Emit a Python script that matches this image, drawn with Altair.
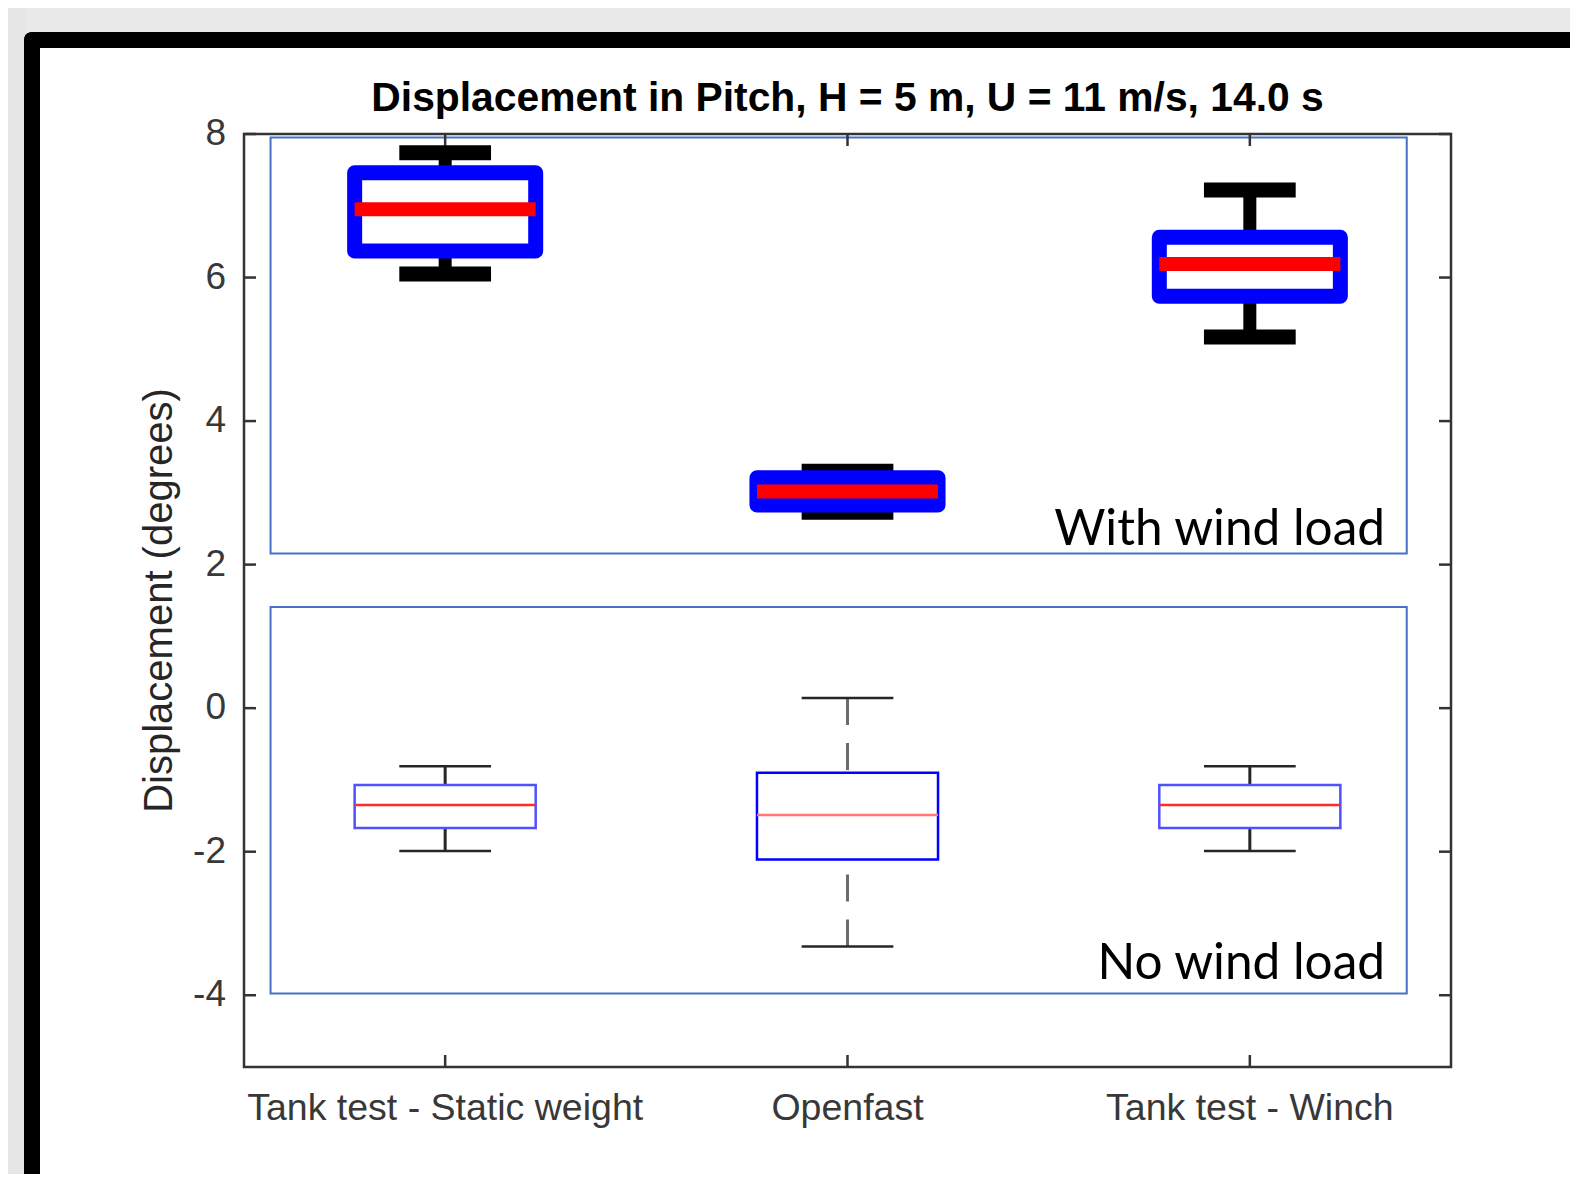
import altair as alt
import pandas as pd

# ---------------- data ----------------
categories = ["Tank test - Static weight", "Openfast", "Tank test - Winch"]
positions = [1, 2, 3]

wind_lo = [6.05, 2.73, 5.17]
wind_q1 = [6.37, 2.83, 5.74]
wind_med = [6.95, 3.02, 6.19]
wind_q3 = [7.46, 3.21, 6.56]
wind_hi = [7.74, 3.30, 7.22]

nowind_lo = [-1.99, -3.32, -1.99]
nowind_q1 = [-1.67, -2.11, -1.67]
nowind_med = [-1.35, -1.49, -1.35]
nowind_q3 = [-1.07, -0.90, -1.07]
nowind_hi = [-0.81, 0.14, -0.81]

y_ticks = [-4, -2, 0, 2, 4, 6, 8]

ann_labels = ["With wind load", "No wind load"]
ann_x = [3.336, 3.336]
ann_y = [2.27, -3.78]
ann_box_x1 = [0.566, 0.566]
ann_box_x2 = [3.390, 3.390]
ann_box_y1 = [7.95, 1.41]
ann_box_y2 = [2.155, -3.976]

title_text = "Displacement in Pitch, H = 5 m, U = 11 m/s, 14.0 s"
y_title = "Displacement (degrees)"

# ---------------- tables ----------------
df = pd.DataFrame({
    "pos": positions * 2,
    "case": ["wind"] * 3 + ["nowind"] * 3,
    "lo": wind_lo + nowind_lo,
    "q1": wind_q1 + nowind_q1,
    "med": wind_med + nowind_med,
    "q3": wind_q3 + nowind_q3,
    "hi": wind_hi + nowind_hi,
})
ticks_df = pd.DataFrame({"v": y_ticks, "lab": [str(v) for v in y_ticks]})
xt_df = pd.DataFrame({"pos": positions, "lab": categories})
ann_df = pd.DataFrame({"label": ann_labels, "x": ann_x, "y": ann_y})
box_df = pd.DataFrame({"x1": ann_box_x1, "x2": ann_box_x2, "y1": ann_box_y1, "y2": ann_box_y2})
lim_df = pd.DataFrame({"x1": [0.5], "x2": [3.5], "y1": [-5], "y2": [8]})

W, H = 1207, 933
BOX_HALF = 0.225
CAP_HALF = 0.114

xscale = alt.Scale(domain=[0.5, 3.5], nice=False, zero=False)
yscale = alt.Scale(domain=[-5, 8], nice=False, zero=False)

X = lambda f: alt.X(f"{f}:Q", scale=xscale, axis=None)
Y = lambda f: alt.Y(f"{f}:Q", scale=yscale, axis=None)

one = alt.Data(values=[{}])

# ---------------- decoration (page frame: gray margin + black border) ----------------
gray_top = alt.Chart(one).mark_rect(fill="#e9e9e9").encode(
    x=alt.value(-236), x2=alt.value(1326), y=alt.value(-126), y2=alt.value(-100))
gray_left = alt.Chart(one).mark_rect(fill="#e6e6e6").encode(
    x=alt.value(-236), x2=alt.value(-218), y=alt.value(-126), y2=alt.value(1040))
black_top = alt.Chart(one).mark_rect(fill="black", cornerRadiusTopLeft=9).encode(
    x=alt.value(-220), x2=alt.value(1326), y=alt.value(-102), y2=alt.value(-86))
black_left = alt.Chart(one).mark_rect(fill="black", cornerRadiusTopLeft=9).encode(
    x=alt.value(-220), x2=alt.value(-204), y=alt.value(-102), y2=alt.value(1040))

# ---------------- axes box, inward ticks, tick labels ----------------
spines = alt.Chart(lim_df).mark_rect(fill="white", fillOpacity=0, stroke="#333333", strokeWidth=2.5).encode(
    x=X("x1"), x2="x2:Q", y=Y("y1"), y2="y2:Q")
tick_style = dict(color="#333333", strokeWidth=2.5)
lticks = alt.Chart(ticks_df).mark_rule(**tick_style).encode(y=Y("v"), x=alt.value(0), x2=alt.value(12))
rticks = alt.Chart(ticks_df).mark_rule(**tick_style).encode(y=Y("v"), x=alt.value(W - 12), x2=alt.value(W))
bticks = alt.Chart(xt_df).mark_rule(**tick_style).encode(x=X("pos"), y=alt.value(H), y2=alt.value(H - 12))
tticks = alt.Chart(xt_df).mark_rule(**tick_style).encode(x=X("pos"), y=alt.value(0), y2=alt.value(12))

ylabels = alt.Chart(ticks_df).mark_text(font="Liberation Sans", fontSize=37, color="#383838",
                                        align="right", baseline="middle").encode(
    y=Y("v"), x=alt.value(-18), text="lab:N")
xlabels = alt.Chart(xt_df).mark_text(font="Liberation Sans", fontSize=37.5, color="#383838",
                                     align="center", baseline="top").encode(
    x=X("pos"), y=alt.value(H + 23), text="lab:N")
ytitle = alt.Chart(one).mark_text(text=y_title, font="Liberation Sans", fontSize=40, color="#262626",
                                  angle=270, align="center", baseline="middle").encode(
    x=alt.value(-84), y=alt.value(H / 2))

# ---------------- annotation boxes ----------------
ann_boxes = alt.Chart(box_df).mark_rect(fill="white", fillOpacity=0, stroke="#4472c4", strokeWidth=2).encode(
    x=X("x1"), x2="x2:Q", y=Y("y1"), y2="y2:Q")

# ---------------- box plots ----------------
calc = dict(bl=f"datum.pos - {BOX_HALF}", br=f"datum.pos + {BOX_HALF}",
            cl=f"datum.pos - {CAP_HALF}", cr=f"datum.pos + {CAP_HALF}")
boxbase = alt.Chart(df).transform_calculate(**calc)

# thick (with wind)
wb = boxbase.transform_filter("datum.case == 'wind'")
w_wu = wb.mark_rule(color="black", strokeWidth=13).encode(x=X("pos"), y=Y("hi"), y2="q3:Q")
w_wl = wb.mark_rule(color="black", strokeWidth=13).encode(x=X("pos"), y=Y("lo"), y2="q1:Q")
w_cu = wb.mark_rule(color="black", strokeWidth=15).encode(x=X("cl"), x2="cr:Q", y=Y("hi"))
w_cl = wb.mark_rule(color="black", strokeWidth=15).encode(x=X("cl"), x2="cr:Q", y=Y("lo"))
w_box = wb.mark_rect(fill="white", fillOpacity=0, stroke="#0000ff", strokeWidth=15, strokeJoin="round").encode(
    x=X("bl"), x2="br:Q", y=Y("q1"), y2="q3:Q")
w_med = wb.mark_rule(color="#ff0000", strokeWidth=14).encode(x=X("bl"), x2="br:Q", y=Y("med"))

# thin (no wind)
nb = boxbase.transform_filter("datum.case == 'nowind'")
is_of = "datum.pos == 2"
wh_color = alt.condition(is_of, alt.value("#6b6b6b"), alt.value("#262626"))
wh_dash = alt.condition(is_of, alt.value([27, 18]), alt.value([1, 0]))
n_wu = nb.mark_rule(strokeWidth=3).encode(x=X("pos"), y=Y("hi"), y2="q3:Q", color=wh_color, strokeDash=wh_dash)
n_wl = nb.mark_rule(strokeWidth=3).encode(x=X("pos"), y=Y("lo"), y2="q1:Q", color=wh_color, strokeDash=wh_dash)
n_cu = nb.mark_rule(color="#262626", strokeWidth=2.5).encode(x=X("cl"), x2="cr:Q", y=Y("hi"))
n_cl = nb.mark_rule(color="#262626", strokeWidth=2.5).encode(x=X("cl"), x2="cr:Q", y=Y("lo"))
n_box = nb.mark_rect(fill="white", fillOpacity=0, strokeWidth=2.5).encode(
    x=X("bl"), x2="br:Q", y=Y("q1"), y2="q3:Q",
    stroke=alt.condition(is_of, alt.value("#0000ff"), alt.value("#5050ff")))
n_med = nb.mark_rule(strokeWidth=2.5).encode(
    x=X("bl"), x2="br:Q", y=Y("med"),
    color=alt.condition(is_of, alt.value("#ff7676"), alt.value("#ff2a2a")))

# ---------------- texts ----------------
ann_text = alt.Chart(ann_df).mark_text(font="Lato", fontSize=49.5, color="black", align="right",
                                       baseline="alphabetic").encode(x=X("x"), y=Y("y"), text="label:N")
title = alt.Chart(one).mark_text(text=title_text, font="Liberation Sans", fontSize=40.8, fontWeight="bold",
                                 color="black", align="center", baseline="alphabetic").encode(
    x=alt.value(W / 2), y=alt.value(-23))

chart = alt.layer(
    spines, gray_top, gray_left, black_top, black_left, ann_boxes,
    lticks, rticks, bticks, tticks,
    w_wu, w_wl, w_cu, w_cl, w_box, w_med,
    n_wu, n_wl, n_cu, n_cl, n_box, n_med,
    ylabels, xlabels, ytitle, ann_text, title,
).properties(
    width=W, height=H, padding=0, background="white"
).configure_view(stroke=None)

chart.save("out.html", embed_options={"renderer": "svg", "actions": False})
